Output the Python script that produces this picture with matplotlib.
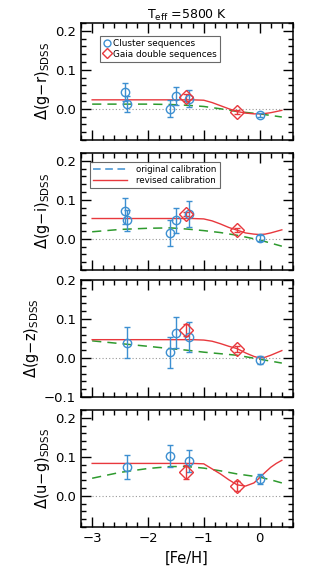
import matplotlib
matplotlib.use("Agg")
import matplotlib.pyplot as plt
from matplotlib.ticker import MultipleLocator
import numpy as np

# cluster sequences (blue circles): [Fe/H], offsets per colour, errors
clu_feh = [-2.42, -2.38, -1.60, -1.50, -1.27, 0.00]
clu_gr = [0.042, 0.012, 0.000, 0.033, 0.026, -0.016]
clu_gr_err = [0.023, 0.021, 0.022, 0.023, 0.022, 0.004]
clu_gi = [0.072, 0.047, 0.015, 0.047, 0.064, 0.003]
clu_gi_err = [0.033, 0.027, 0.034, 0.033, 0.034, 0.008]
# g-z and u-g have fewer clusters
clu_feh_gz = [-2.38, -1.60, -1.50, -1.27, 0.00]
clu_gz = [0.039, 0.015, 0.065, 0.054, -0.006]
clu_gz_err = [0.040, 0.040, 0.040, 0.038, 0.010]
clu_feh_ug = [-2.38, -1.60, -1.27, 0.00]
clu_ug = [0.0735, 0.102, 0.090, 0.043]
clu_ug_err = [0.030, 0.029, 0.028, 0.013]

# Gaia double sequences (red diamonds)
gaia_feh = [-1.31, -0.40]
gaia_gr = [0.029, -0.008]
gaia_gr_err = [0.008, 0.006]
gaia_gi = [0.064, 0.022]
gaia_gi_err = [0.006, 0.005]
gaia_gz = [0.071, 0.023]
gaia_gz_err = [0.015, 0.008]
gaia_ug = [0.062, 0.025]
gaia_ug_err = [0.018, 0.013]

# calibration curves
rev_feh = [-3.0, -1.2, -1.0, -0.85, -0.7, -0.55, -0.4, -0.25, -0.1, 0.0, 0.1, 0.2, 0.3, 0.4]
rev_gr = [0.023, 0.023, 0.022, 0.016, 0.008, 0.000, -0.007, -0.011, -0.013, -0.013, -0.012, -0.010, -0.007, -0.004]
rev_gi = [0.052, 0.052, 0.051, 0.046, 0.038, 0.029, 0.022, 0.015, 0.012, 0.011, 0.012, 0.015, 0.019, 0.023]
rev_gz = [0.047, 0.047, 0.046, 0.043, 0.037, 0.030, 0.024, 0.013, 0.004, 0.000, 0.002, 0.007, 0.013, 0.019]
rev_ug = [0.083, 0.083, 0.082, 0.069, 0.056, 0.041, 0.028, 0.025, 0.033, 0.046, 0.060, 0.073, 0.083, 0.091]

orig_feh = [-3.0, -2.5, -2.0, -1.6, -1.3, -1.0, -0.7, -0.4, -0.2, 0.0, 0.2, 0.4]
orig_gr = [0.012, 0.012, 0.012, 0.011, 0.009, 0.006, 0.000, -0.007, -0.010, -0.013, -0.017, -0.021]
orig_gi = [0.018, 0.024, 0.027, 0.028, 0.025, 0.021, 0.016, 0.009, 0.003, -0.003, -0.011, -0.019]
orig_gz = [0.044, 0.037, 0.030, 0.024, 0.020, 0.015, 0.011, 0.007, 0.002, -0.003, -0.008, -0.013]
orig_ug = [0.045, 0.060, 0.070, 0.075, 0.075, 0.071, 0.064, 0.056, 0.052, 0.048, 0.041, 0.033]

panels = [
    ('g$-$r', clu_feh, clu_gr, clu_gr_err, gaia_gr, gaia_gr_err, rev_gr, orig_gr, (-0.08, 0.22)),
    ('g$-$i', clu_feh, clu_gi, clu_gi_err, gaia_gi, gaia_gi_err, rev_gi, orig_gi, (-0.08, 0.22)),
    ('g$-$z', clu_feh_gz, clu_gz, clu_gz_err, gaia_gz, gaia_gz_err, rev_gz, orig_gz, (-0.10, 0.20)),
    ('u$-$g', clu_feh_ug, clu_ug, clu_ug_err, gaia_ug, gaia_ug_err, rev_ug, orig_ug, (-0.08, 0.22)),
]

blue = '#3d8fd1'
red = '#e8383d'
green = '#2e9a2e'

fig = plt.figure(figsize=(3.25, 5.85), dpi=100)
tops = [23, 153, 280, 410]
left, width, h = 81/325, 212/325, 117/585

for i, (lab, cf, cy, ce, gy, ge, ry, oy, yl) in enumerate(panels):
    ax = fig.add_axes([left, 1 - (tops[i] + 117)/585, width, h])
    ax.plot([-3, 0.4], [0, 0], ls=(0, (1, 2)), color='#999999', lw=0.8)
    ax.plot(orig_feh, oy, ls=(0, (6, 4)), color=green, lw=1.1)
    ax.plot(rev_feh, ry, '-', color=red, lw=1.0)
    ax.errorbar(cf, cy, yerr=ce, fmt='o', mfc='none', mec=blue, ecolor=blue,
                ms=6, mew=1.0, elinewidth=1.0, capsize=2, capthick=1.0)
    ax.errorbar(gaia_feh, gy, yerr=ge, fmt='D', mfc='none', mec=red, ecolor=red,
                ms=7, mew=1.0, elinewidth=1.0, capsize=2, capthick=1.0)
    ax.set_xlim(-3.2, 0.6)
    ax.set_ylim(*yl)
    ax.xaxis.set_major_locator(MultipleLocator(1))
    ax.xaxis.set_minor_locator(MultipleLocator(0.2))
    ax.yaxis.set_major_locator(MultipleLocator(0.1))
    ax.yaxis.set_minor_locator(MultipleLocator(0.02))
    ax.tick_params(which='both', direction='in', top=True, right=True, labelsize=9.5)
    ax.tick_params(which='major', length=7, width=1)
    ax.tick_params(which='minor', length=3.5, width=1)
    for s in ax.spines.values():
        s.set_linewidth(1.1)
    ax.set_ylabel(r'$\Delta$(' + lab + r')$_{\rm SDSS}$', fontsize=10.5, labelpad=2)
    if i < 3:
        ax.set_xticklabels([])
    else:
        ax.set_xlabel('[Fe/H]', fontsize=10.5)

    if i == 0:
        ax.set_title(r'T$_{\rm eff}$ =5800 K', fontsize=9, pad=3)
        h1, = ax.plot([], [], 'o', mfc='none', mec=blue, ms=5, mew=1.0)
        h2, = ax.plot([], [], 'D', mfc='none', mec=red, ms=5, mew=1.0)
        leg = ax.legend([h1, h2], ['Cluster sequences', 'Gaia double sequences'],
                        loc='upper left', bbox_to_anchor=(0.07, 0.93), fontsize=6.4,
                        handlelength=0.6, handletextpad=0.4, borderpad=0.4,
                        labelspacing=0.15, fancybox=False, edgecolor='#444444')
        leg.get_frame().set_linewidth(0.8)
    if i == 1:
        h1, = ax.plot([], [], ls=(0, (5, 3)), color=blue, lw=1.1)
        h2, = ax.plot([], [], '-', color=red, lw=1.0)
        leg = ax.legend([h1, h2], ['original calibration', 'revised calibration'],
                        loc='upper left', bbox_to_anchor=(0.02, 0.96), fontsize=6.2,
                        handlelength=4.0, handletextpad=1.0, borderpad=0.4,
                        labelspacing=0.15, fancybox=False, edgecolor='#444444')
        leg.get_frame().set_linewidth(0.8)

fig.savefig('out.png', dpi=100)
